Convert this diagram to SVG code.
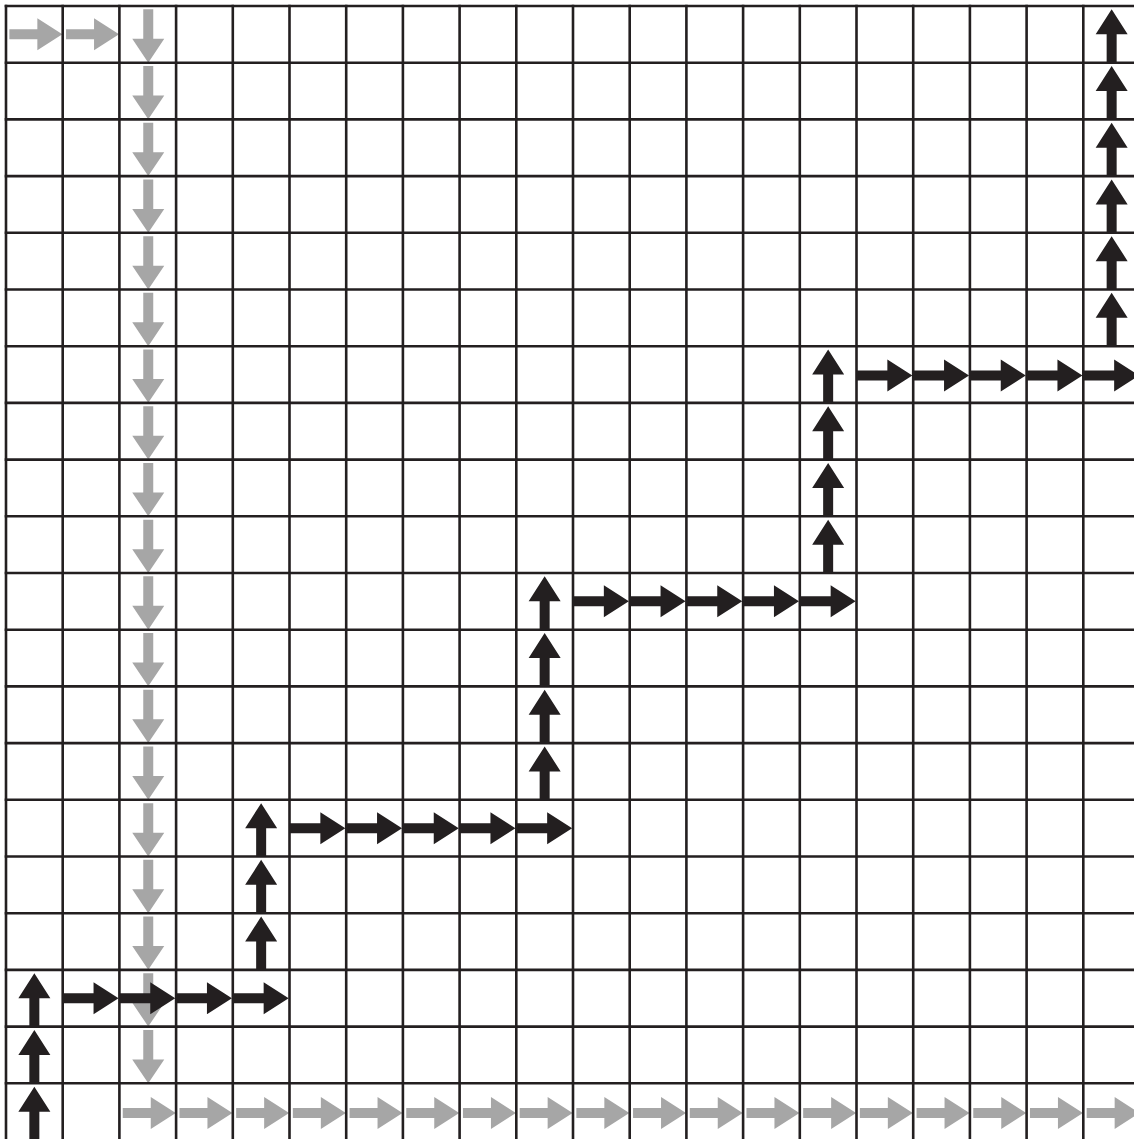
<svg xmlns="http://www.w3.org/2000/svg" xmlns:xlink="http://www.w3.org/1999/xlink" width="1134" height="1139" viewBox="0 0 1134 1139">
<style>
.grid{fill:none;stroke:#231f20;stroke-width:2.6}
.g{fill:#a6a6a6}
.b{fill:#231f20}
</style>
<defs>
<path id="gr" d="M -25 -5 H 3 V -16 L 28 0 L 3 16 V 5 H -25 Z"/>
<path id="gd" d="M -5 -25 V 4.5 H -16 L 0 28.3 L 16 4.5 H 5 V -25 Z"/>
<path id="br" d="M -28.4 -5 H 2.5 V -16 L 27.5 0 L 2.5 16 V 5 H -28.4 Z"/>
<path id="bu" d="M -5 28.4 V 0 H -16 L 0 -25 L 16 0 H 5 V 28.4 Z"/>
</defs>
<rect width="1134" height="1139" fill="#ffffff"/>
<g id="connectors">
<g id="gray-path" class="g">
<use href="#gr" x="34.35" y="34.35"/><use href="#gr" x="91.05" y="34.35"/>
<use href="#gd" x="148.25" y="34.35"/><use href="#gd" x="148.25" y="91.05"/><use href="#gd" x="148.25" y="147.75"/><use href="#gd" x="148.25" y="204.45"/><use href="#gd" x="148.25" y="261.15"/><use href="#gd" x="148.25" y="317.85"/><use href="#gd" x="148.25" y="374.55"/><use href="#gd" x="148.25" y="431.25"/><use href="#gd" x="148.25" y="487.95"/><use href="#gd" x="148.25" y="544.65"/><use href="#gd" x="148.25" y="601.35"/><use href="#gd" x="148.25" y="658.05"/><use href="#gd" x="148.25" y="714.75"/><use href="#gd" x="148.25" y="771.45"/><use href="#gd" x="148.25" y="828.15"/><use href="#gd" x="148.25" y="884.85"/><use href="#gd" x="148.25" y="941.55"/><use href="#gd" x="148.25" y="998.25"/><use href="#gd" x="148.25" y="1054.95"/>
<use href="#gr" x="147.75" y="1113"/><use href="#gr" x="204.45" y="1113"/><use href="#gr" x="261.15" y="1113"/><use href="#gr" x="317.85" y="1113"/><use href="#gr" x="374.55" y="1113"/><use href="#gr" x="431.25" y="1113"/><use href="#gr" x="487.95" y="1113"/><use href="#gr" x="544.65" y="1113"/><use href="#gr" x="601.35" y="1113"/><use href="#gr" x="658.05" y="1113"/><use href="#gr" x="714.75" y="1113"/><use href="#gr" x="771.45" y="1113"/><use href="#gr" x="828.15" y="1113"/><use href="#gr" x="884.85" y="1113"/><use href="#gr" x="941.55" y="1113"/><use href="#gr" x="998.25" y="1113"/><use href="#gr" x="1054.95" y="1113"/><use href="#gr" x="1111.65" y="1113"/>
</g>
</g>
<g id="grid">
<path class="grid" d="M 4.7 6 H 1134 M 4.7 62.7 H 1134 M 4.7 119.4 H 1134 M 4.7 176.1 H 1134 M 4.7 232.8 H 1134 M 4.7 289.5 H 1134 M 4.7 346.2 H 1134 M 4.7 402.9 H 1134 M 4.7 459.6 H 1134 M 4.7 516.3 H 1134 M 4.7 573 H 1134 M 4.7 629.7 H 1134 M 4.7 686.4 H 1134 M 4.7 743.1 H 1134 M 4.7 799.8 H 1134 M 4.7 856.5 H 1134 M 4.7 913.2 H 1134 M 4.7 969.9 H 1134 M 4.7 1026.6 H 1134 M 4.7 1083.3 H 1134"/>
<path class="grid" d="M 6 4.7 V 1139 M 62.7 4.7 V 1139 M 119.4 4.7 V 1139 M 176.1 4.7 V 1139 M 232.8 4.7 V 1139 M 289.5 4.7 V 1139 M 346.2 4.7 V 1139 M 402.9 4.7 V 1139 M 459.6 4.7 V 1139 M 516.3 4.7 V 1139 M 573 4.7 V 1139 M 629.7 4.7 V 1139 M 686.4 4.7 V 1139 M 743.1 4.7 V 1139 M 799.8 4.7 V 1139 M 856.5 4.7 V 1139 M 913.2 4.7 V 1139 M 969.9 4.7 V 1139 M 1026.6 4.7 V 1139 M 1083.3 4.7 V 1139"/>
</g>
<g id="connectors-black">
<g id="black-path" class="b">
<use href="#bu" x="34.35" y="1111.65"/><use href="#bu" x="34.35" y="1054.95"/><use href="#bu" x="34.35" y="998.25"/>
<use href="#br" x="91.05" y="998.25"/><use href="#br" x="147.75" y="998.25"/><use href="#br" x="204.45" y="998.25"/><use href="#br" x="261.15" y="998.25"/>
<use href="#bu" x="261.15" y="941.55"/><use href="#bu" x="261.15" y="884.85"/><use href="#bu" x="261.15" y="828.15"/>
<use href="#br" x="317.85" y="828.15"/><use href="#br" x="374.55" y="828.15"/><use href="#br" x="431.25" y="828.15"/><use href="#br" x="487.95" y="828.15"/><use href="#br" x="544.65" y="828.15"/>
<use href="#bu" x="544.65" y="771.45"/><use href="#bu" x="544.65" y="714.75"/><use href="#bu" x="544.65" y="658.05"/><use href="#bu" x="544.65" y="601.35"/>
<use href="#br" x="601.35" y="601.35"/><use href="#br" x="658.05" y="601.35"/><use href="#br" x="714.75" y="601.35"/><use href="#br" x="771.45" y="601.35"/><use href="#br" x="828.15" y="601.35"/>
<use href="#bu" x="828.15" y="544.65"/><use href="#bu" x="828.15" y="487.95"/><use href="#bu" x="828.15" y="431.25"/><use href="#bu" x="828.15" y="374.55"/>
<use href="#br" x="884.85" y="375.5"/><use href="#br" x="941.55" y="375.5"/><use href="#br" x="998.25" y="375.5"/><use href="#br" x="1054.95" y="375.5"/><use href="#br" x="1111.65" y="375.5"/>
<use href="#bu" x="1111.65" y="317.85"/><use href="#bu" x="1111.65" y="261.15"/><use href="#bu" x="1111.65" y="204.45"/><use href="#bu" x="1111.65" y="147.75"/><use href="#bu" x="1111.65" y="91.05"/><use href="#bu" x="1111.65" y="34.35"/>
</g>
</g>
</svg>
